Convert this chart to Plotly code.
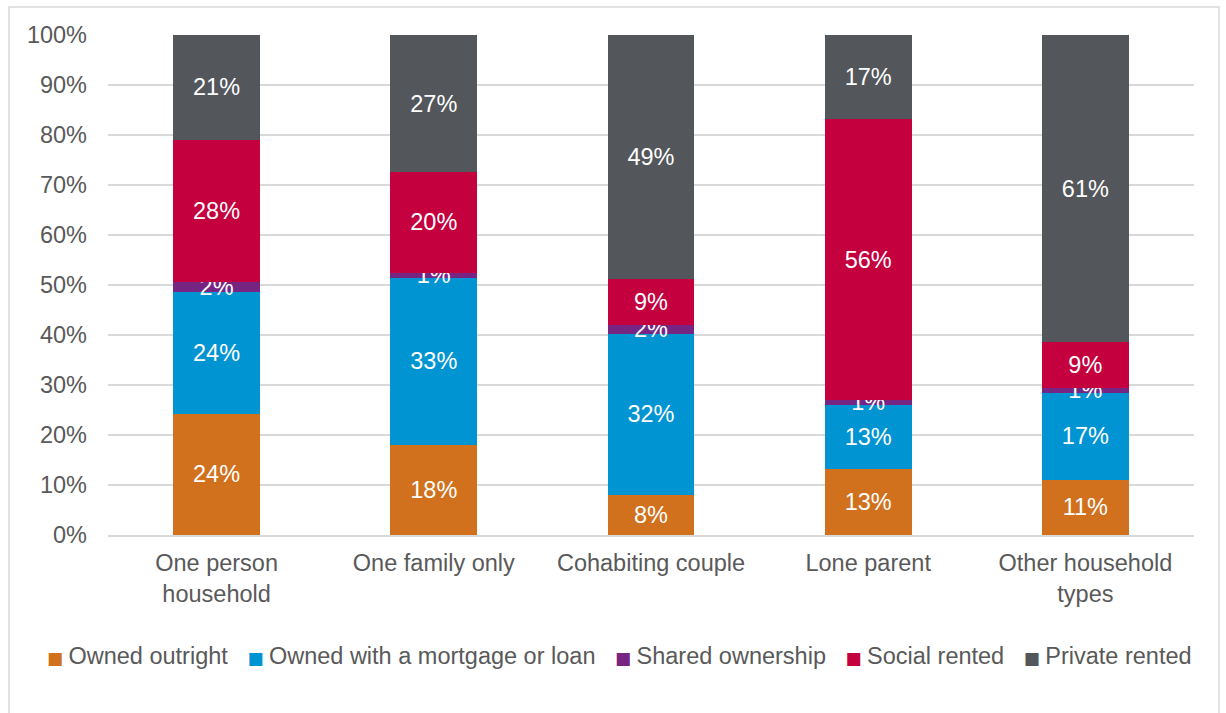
import plotly.graph_objects as go

# Household types along the x axis
categories = ["One person<br>household", "One family only", "Cohabiting couple",
              "Lone parent", "Other household<br>types"]

# Tenure shares (%) for each household type
owned_outright = [24.3, 18.1, 8.0, 13.3, 11.1]
owned_mortgage = [24.4, 33.4, 32.3, 12.8, 17.4]
shared_ownership = [2.0, 1.0, 1.7, 0.9, 1.0]
social_rented = [28.4, 20.1, 9.2, 56.2, 9.1]
private_rented = [20.9, 27.4, 48.8, 16.8, 61.4]

y_ticks = [0, 10, 20, 30, 40, 50, 60, 70, 80, 90, 100]
y_tick_labels = [f"{v}%" for v in y_ticks]

series = [
    ("Owned outright", owned_outright, "#D1711D"),
    ("Owned with a mortgage or loan", owned_mortgage, "#0194D3"),
    ("Shared ownership", shared_ownership, "#772583"),
    ("Social rented", social_rented, "#C5003E"),
    ("Private rented", private_rented, "#53565A"),
]

FONT = "Liberation Sans, Arial, sans-serif"
FS = 23.5
GREY_TEXT = "#595959"

fig = go.Figure()
for name, values, color in series:
    fig.add_trace(go.Bar(
        name=name,
        x=categories,
        y=values,
        marker=dict(color=color, line=dict(width=0)),
        text=[f"{round(v):.0f}%" for v in values],
        textposition="inside",
        insidetextanchor="middle",
        constraintext="none",
        textangle=0,
        cliponaxis=False,
        textfont=dict(family=FONT, size=FS, color="white"),
        hoverinfo="skip",
        showlegend=False,
    ))

W, H = 1226, 713
L, R, T, B = 108, 32, 35, 178
pw, ph = W - L - R, H - T - B

def px_x(x):
    return (x - L) / pw

def px_y(y):
    return (H - B - y) / ph

# Compact one-line key: coloured square followed by the series name
NB = "\u00a0"
key_items = [
    f"<span style='color:{color};font-size:17px;font-family:DejaVu Sans'>\u25a0{NB}</span>{name}"
    for name, _, color in series
]
key_text = (NB * 3).join(key_items)

fig.update_layout(
    width=W, height=H,
    barmode="stack",
    bargap=0.6,
    margin=dict(l=L, r=R, t=T, b=B, autoexpand=False),
    paper_bgcolor="white",
    plot_bgcolor="white",
    font=dict(family=FONT, size=FS, color=GREY_TEXT),
    showlegend=False,
    xaxis=dict(
        showgrid=False,
        showline=True, linecolor="#D9D9D9", linewidth=1.5,
        ticks="", ticklabelstandoff=6,
        tickfont=dict(family=FONT, size=FS, color=GREY_TEXT),
    ),
    yaxis=dict(
        range=[0, 100],
        tickvals=y_ticks, ticktext=y_tick_labels,
        showgrid=True, gridcolor="#D9D9D9", gridwidth=1.5,
        zeroline=False, showline=False,
        ticks="", ticklabelstandoff=20,
        tickfont=dict(family=FONT, size=FS, color=GREY_TEXT),
    ),
    annotations=[dict(
        text=key_text, showarrow=False,
        xref="paper", yref="paper",
        x=px_x(619.5), xanchor="center",
        y=px_y(656), yanchor="middle",
        font=dict(family=FONT, size=FS, color=GREY_TEXT),
    )],
    shapes=[dict(
        type="rect", xref="paper", yref="paper",
        x0=px_x(9), x1=px_x(1219), y0=px_y(725), y1=px_y(7),
        line=dict(color="#D9D9D9", width=1.5), fillcolor="rgba(0,0,0,0)",
        layer="below",
    )],
)

fig.write_html("out.html")
